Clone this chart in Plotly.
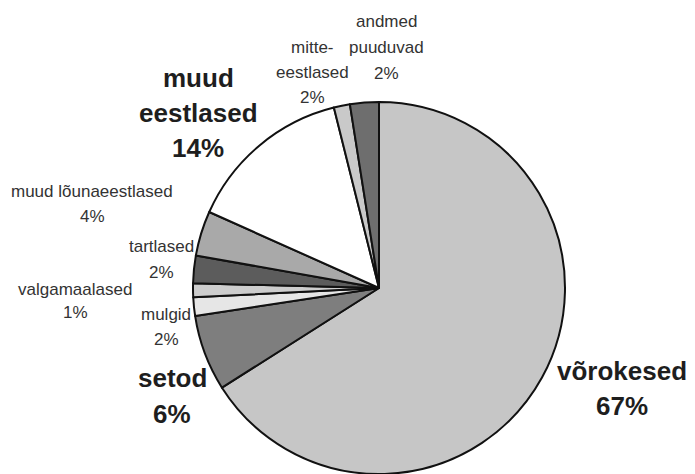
import plotly.graph_objects as go

# ---- data ----
categories = ["võrokesed", "setod", "mulgid", "valgamaalased", "tartlased",
              "muud lõunaeestlased", "muud eestlased", "mitte-eestlased", "andmed puuduvad"]
values = [66.0, 6.6, 1.6, 1.2, 2.4, 3.9, 14.4, 1.4, 2.5]
label_lines = [
    ["võrokesed", "67%"],
    ["setod", "6%"],
    ["mulgid", "2%"],
    ["valgamaalased", "1%"],
    ["tartlased", "2%"],
    ["muud lõunaeestlased", "4%"],
    ["muud", "eestlased", "14%"],
    ["mitte-", "eestlased", "2%"],
    ["andmed", "puuduvad", "2%"],
]

# ---- styles / layout ----
W, H = 695, 474
colors = ["#c6c6c6", "#7e7e7e", "#e6e6e6", "#cdcdcd", "#5c5c5c",
          "#a9a9a9", "#ffffff", "#c9c9c9", "#6e6e6e"]
bold = [True, True, False, False, False, False, True, False, False]
# (center x px, first line center y px, line spacing px)
label_pos = [
    (622, 371, 35),
    (172, 378, 36),
    (166, 314, 25),
    (75, 289, 23),
    (161, 247, 25),
    (92, 192, 24),
    (198, 78, 35),
    (312, 47, 25),
    (386, 21, 26),
]

cx, cy, r = 379, 288, 186
fig = go.Figure(go.Pie(
    labels=categories, values=values, sort=False, direction="clockwise", rotation=0,
    marker=dict(colors=colors, line=dict(color="#111111", width=2)),
    textinfo="none", hoverinfo="label+percent", showlegend=False,
    domain=dict(x=[(cx - r) / W, (cx + r) / W], y=[1 - (cy + r) / H, 1 - (cy - r) / H]),
))

anns = []
for lines, (lx, ly, sp), b in zip(label_lines, label_pos, bold):
    fs = 26 if b else 17
    for i, t in enumerate(lines):
        anns.append(dict(
            text=f"<b>{t}</b>" if b else t,
            x=lx / W, y=1 - (ly + i * sp) / H, xref="paper", yref="paper",
            xanchor="center", yanchor="middle", showarrow=False,
            font=dict(family="Arial, Liberation Sans, sans-serif", size=fs,
                      color="#1e1e1e" if b else "#333333"),
        ))

fig.update_layout(
    width=W, height=H, margin=dict(l=0, r=0, t=0, b=0),
    paper_bgcolor="white", plot_bgcolor="white", annotations=anns,
)
fig.write_html("out.html")
